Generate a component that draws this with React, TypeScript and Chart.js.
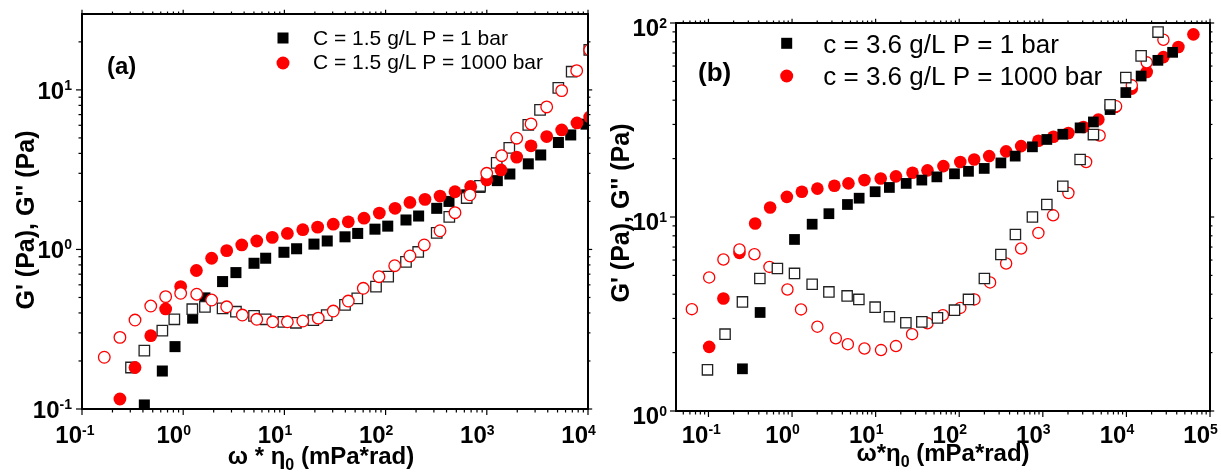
import React, { useEffect, useRef } from "react";
import { Chart, registerables } from "chart.js";
Chart.register(...registerables);

const FONT = '"Liberation Sans", Arial, Helvetica, sans-serif';

// ---------- Panel (a): C = 1.5 g/L ----------
const aGp1X = [0.413, 0.622, 0.83, 1.24, 1.64, 2.45, 3.32, 5.01, 6.53, 9.9, 13.2, 19.6, 26.5, 39.7, 53, 78.5, 105, 159, 212, 320, 423, 633, 857, 1270, 1690, 2570, 3410, 5100, 6750, 9550];
const aGp1Y = [0.106, 0.173, 0.246, 0.371, 0.497, 0.629, 0.716, 0.819, 0.881, 0.96, 1.01, 1.08, 1.13, 1.2, 1.26, 1.34, 1.4, 1.53, 1.62, 1.81, 2.0, 2.2, 2.45, 2.7, 2.97, 3.44, 3.91, 4.68, 5.22, 6.1];
const aGpp1X = [0.305, 0.413, 0.622, 0.817, 1.23, 1.64, 2.45, 3.32, 5.01, 6.53, 9.75, 13.0, 19.3, 26.2, 39.7, 52.5, 80.4, 106, 159, 210, 320, 426, 633, 857, 1253, 1668, 2570, 3357, 5090, 6900, 10300];
const aGpp1Y = [0.182, 0.232, 0.31, 0.365, 0.422, 0.437, 0.427, 0.407, 0.383, 0.365, 0.352, 0.347, 0.361, 0.388, 0.449, 0.494, 0.585, 0.675, 0.836, 0.964, 1.27, 1.6, 2.1, 2.5, 3.49, 4.33, 6.04, 7.5, 10.3, 13.0, 17.8];
const aGp1000X = [0.237, 0.334, 0.478, 0.671, 0.944, 1.35, 1.91, 2.69, 3.79, 5.33, 7.59, 10.7, 15.2, 21.3, 30.4, 42.8, 61.2, 86.7, 124, 174, 245, 345, 485, 693, 998, 1380, 1973, 2735, 3908, 5495, 7780, 10400];
const aGp1000Y = [0.1155, 0.182, 0.288, 0.424, 0.585, 0.738, 0.881, 0.983, 1.067, 1.13, 1.19, 1.26, 1.33, 1.38, 1.44, 1.49, 1.57, 1.69, 1.81, 1.97, 2.06, 2.16, 2.3, 2.48, 2.73, 3.15, 3.79, 4.46, 5.1, 5.61, 6.21, 6.77];
const aGpp1000X = [0.166, 0.237, 0.334, 0.478, 0.671, 0.944, 1.36, 1.91, 2.69, 3.84, 5.33, 7.66, 10.7, 15.2, 21.6, 30.4, 42.8, 60.2, 86.0, 123, 174, 241, 345, 485, 682, 998, 1403, 1973, 2735, 3908, 5495, 7730, 10400];
const aGpp1000Y = [0.211, 0.281, 0.361, 0.442, 0.506, 0.531, 0.524, 0.482, 0.437, 0.388, 0.365, 0.352, 0.352, 0.356, 0.371, 0.411, 0.475, 0.571, 0.675, 0.791, 0.91, 1.067, 1.31, 1.7, 2.2, 3.0, 3.87, 4.98, 6.12, 7.82, 9.9, 13.2, 17.8];
const aLegend = ["C = 1.5 g/L P = 1 bar", "C = 1.5 g/L P = 1000 bar"];
const aXTickExp = [-1, 0, 1, 2, 3, 4];
const aYTickExp = [-1, 0, 1];

// ---------- Panel (b): c = 3.6 g/L ----------
const bGp1X = [0.255, 0.415, 1.07, 1.74, 2.76, 4.6, 6.35, 9.86, 14.6, 23.2, 35.7, 54.0, 87.7, 129, 199, 315, 467, 751, 1117, 1734, 2793, 4030, 6380, 9840, 15000, 23800, 35700];
const bGp1Y = [1.65, 3.22, 7.66, 9.18, 10.4, 11.6, 12.5, 13.5, 14.2, 14.9, 15.5, 16.1, 16.7, 17.2, 17.8, 19.0, 20.6, 23.0, 25.1, 26.7, 28.8, 30.9, 35.8, 43.8, 53.3, 64.2, 70.6];
const bGpp1X = [0.0973, 0.158, 0.255, 0.412, 0.668, 1.07, 1.74, 2.76, 4.56, 6.3, 9.86, 14.6, 23.0, 35.7, 54.9, 87.7, 129, 200, 315, 470, 751, 1117, 1734, 2793, 4030, 6380, 9840, 15000, 23900];
const bGpp1Y = [1.63, 2.49, 3.65, 4.82, 5.43, 5.12, 4.5, 4.11, 3.92, 3.76, 3.43, 3.06, 2.85, 2.88, 3.02, 3.31, 3.76, 4.82, 6.41, 8.13, 10.0, 11.6, 14.4, 19.8, 26.6, 37.9, 52.3, 67.7, 89.8];
const bGp1000X = [0.102, 0.151, 0.235, 0.362, 0.547, 0.867, 1.31, 2.01, 3.21, 4.73, 7.35, 11.5, 17.5, 27.6, 41.7, 64.7, 103, 151, 228, 364, 550, 885, 1340, 2023, 3060, 4620, 7330, 11600, 17500, 27700, 41900, 63300];
const bGp1000Y = [2.14, 3.8, 6.53, 9.26, 11.2, 12.7, 13.5, 14.0, 14.5, 14.9, 15.5, 15.8, 16.2, 16.9, 17.4, 18.3, 19.2, 19.8, 20.6, 21.8, 23.2, 24.7, 25.9, 27.1, 29.1, 31.8, 36.9, 45.9, 55.9, 66.7, 75.2, 87.4];
const bGpp1000X = [0.0633, 0.102, 0.151, 0.235, 0.355, 0.537, 0.881, 1.28, 2.01, 3.34, 4.65, 7.35, 11.6, 17.5, 27.3, 41.7, 63.7, 103, 152, 234, 364, 550, 885, 1328, 2023, 3296, 4780, 7530, 11600, 17500, 27700];
const bGpp1000Y = [3.35, 4.88, 6.04, 6.8, 6.43, 5.53, 4.23, 3.34, 2.72, 2.37, 2.21, 2.1, 2.06, 2.16, 2.49, 2.83, 3.12, 3.4, 3.76, 4.6, 5.76, 6.88, 8.28, 10.2, 13.3, 19.2, 26.3, 37.2, 47.7, 62.7, 82.0];
const bLegend = ["c = 3.6 g/L P = 1 bar", "c = 3.6 g/L P = 1000 bar"];
const bXTickExp = [-1, 0, 1, 2, 3, 4, 5];
const bYTickExp = [0, 1, 2];

const yTitle = "G' (Pa), G'' (Pa)";

const pts = (xs: number[], ys: number[]) => xs.map((x, i) => ({ x, y: ys[i] }));

type MarkerKind = "fsq" | "osq" | "fci" | "oci";

function makeDataset(data: any[], kind: MarkerKind, order: number, sizes: any) {
  const base: any = { data, showLine: false, clip: 0, order };
  if (kind === "fsq") return { ...base, pointStyle: "rect", pointRadius: sizes.fsq, backgroundColor: "#000", borderColor: "#000", borderWidth: 0 };
  if (kind === "osq") return { ...base, pointStyle: "rect", pointRadius: sizes.osq, backgroundColor: "#fff", borderColor: "#222", borderWidth: 1.3 };
  if (kind === "fci") return { ...base, pointStyle: "circle", pointRadius: sizes.fci, backgroundColor: "#ff0000", borderColor: "#ff0000", borderWidth: 0 };
  return { ...base, pointStyle: "circle", pointRadius: sizes.oci, backgroundColor: "#fff", borderColor: "#ff0000", borderWidth: 1.3 };
}

function makeDecor(spec: any) {
  return {
    id: "decor",
    afterDraw(chart: any) {
      const ctx: CanvasRenderingContext2D = chart.ctx;
      const a = chart.chartArea;
      const xs = chart.scales.x;
      const ys = chart.scales.y;
      ctx.save();
      ctx.strokeStyle = "#000";
      ctx.fillStyle = "#000";
      const line = (x1: number, y1: number, x2: number, y2: number) => {
        ctx.beginPath();
        ctx.moveTo(x1, y1);
        ctx.lineTo(x2, y2);
        ctx.stroke();
      };
      // ticks
      ctx.lineWidth = 1.2;
      const e0x = Math.floor(Math.log10(xs.min));
      const e1x = Math.ceil(Math.log10(xs.max));
      for (let e = e0x; e <= e1x; e++) {
        for (let k = 1; k < 10; k++) {
          const v = k * Math.pow(10, e);
          if (v < xs.min * 0.999 || v > xs.max * 1.001) continue;
          const p = xs.getPixelForValue(v);
          const len = k === 1 ? 6 : 3.5;
          line(p, a.bottom, p, a.bottom + len);
          line(p, a.top, p, a.top - len * 0.7);
        }
      }
      const e0y = Math.floor(Math.log10(ys.min));
      const e1y = Math.ceil(Math.log10(ys.max));
      for (let e = e0y; e <= e1y; e++) {
        for (let k = 1; k < 10; k++) {
          const v = k * Math.pow(10, e);
          if (v < ys.min * 0.999 || v > ys.max * 1.001) continue;
          const p = ys.getPixelForValue(v);
          const len = k === 1 ? 6 : 3.5;
          line(a.left, p, a.left - len, p);
          line(a.right, p, a.right + len * 0.7, p);
        }
      }
      // frame
      ctx.lineWidth = 2;
      ctx.strokeRect(a.left, a.top, a.right - a.left, a.bottom - a.top);

      // tick labels
      const baseFont = `bold 24px ${FONT}`;
      const expFont = `bold 14px ${FONT}`;
      ctx.textBaseline = "alphabetic";
      for (const e of spec.xExp) {
        const p = xs.getPixelForValue(Math.pow(10, e));
        ctx.font = baseFont;
        ctx.textAlign = "right";
        ctx.fillText("10", p, a.bottom + spec.xBaseDy);
        ctx.font = expFont;
        ctx.textAlign = "left";
        ctx.fillText(String(e), p, a.bottom + spec.xExpDy);
      }
      for (const e of spec.yExp) {
        const p = ys.getPixelForValue(Math.pow(10, e));
        const xr = a.left - spec.yLabelGap;
        ctx.font = expFont;
        const ew = ctx.measureText(String(e)).width;
        ctx.textAlign = "right";
        ctx.fillText(String(e), xr, p + spec.yExpDy);
        ctx.font = baseFont;
        ctx.fillText("10", xr - ew, p + spec.yBaseDy);
      }

      // x title with subscript
      const parts = [
        { t: spec.xTitle[0], f: `bold 24px ${FONT}`, dy: 0 },
        { t: "0", f: `bold 16px ${FONT}`, dy: 6 },
        { t: spec.xTitle[1], f: `bold 24px ${FONT}`, dy: 0 },
      ];
      let tw = 0;
      for (const pt of parts) {
        ctx.font = pt.f;
        tw += ctx.measureText(pt.t).width;
      }
      let cx = spec.xTitleCx - tw / 2;
      ctx.textAlign = "left";
      for (const pt of parts) {
        ctx.font = pt.f;
        ctx.fillText(pt.t, cx, spec.xTitleBase + pt.dy);
        cx += ctx.measureText(pt.t).width;
      }

      // y title
      ctx.save();
      ctx.translate(spec.yTitleCx, spec.yTitleCy);
      ctx.rotate(-Math.PI / 2);
      ctx.font = `bold 25px ${FONT}`;
      ctx.textAlign = "center";
      ctx.textBaseline = "middle";
      ctx.fillText(yTitle, 0, 0);
      ctx.restore();

      // panel tag
      ctx.font = `bold ${spec.tagSize}px ${FONT}`;
      ctx.textAlign = "left";
      ctx.textBaseline = "alphabetic";
      ctx.fillText(spec.tag, spec.tagX, spec.tagBase);

      // legend
      const L = spec.legend;
      ctx.fillStyle = "#000";
      ctx.fillRect(L.mx - L.sq / 2, L.my1 - L.sq / 2, L.sq, L.sq);
      ctx.fillStyle = "#ff0000";
      ctx.beginPath();
      ctx.arc(L.mx, L.my2, L.r, 0, Math.PI * 2);
      ctx.fill();
      ctx.fillStyle = "#000";
      ctx.font = `${L.size}px ${FONT}`;
      ctx.fillText(L.labels[0], L.tx, L.tb1);
      ctx.fillText(L.labels[1], L.tx, L.tb2);
      ctx.restore();
    },
  };
}

function Panel(props: any) {
  const ref = useRef<HTMLCanvasElement>(null);
  const { p } = props;
  useEffect(() => {
    const chart = new Chart(ref.current as HTMLCanvasElement, {
      type: "scatter",
      data: { datasets: p.datasets },
      options: {
        responsive: false,
        maintainAspectRatio: false,
        animation: false,
        events: [],
        layout: { padding: { top: p.padTop, right: p.padRight, left: 0, bottom: 0 } },
        plugins: { legend: { display: false }, tooltip: { enabled: false } },
        scales: {
          x: {
            type: "logarithmic",
            position: "bottom",
            min: p.xMin,
            max: p.xMax,
            grid: { display: false },
            border: { display: false },
            ticks: { display: false },
            afterFit: (s: any) => {
              s.height = p.xAxisH;
            },
          },
          y: {
            type: "logarithmic",
            position: "left",
            min: p.yMin,
            max: p.yMax,
            grid: { display: false },
            border: { display: false },
            ticks: { display: false },
            afterFit: (s: any) => {
              s.width = p.yAxisW;
            },
          },
        },
      } as any,
      plugins: [makeDecor(p.spec)],
    });
    return () => chart.destroy();
  }, []);
  return (
    <canvas
      ref={ref}
      width={p.width}
      height={473}
      style={{ position: "absolute", left: p.left, top: 0, width: p.width, height: 473 }}
    />
  );
}

const sizesA = { fsq: 7.8, osq: 7.4, fci: 6.4, oci: 5.8 };
const sizesB = { fsq: 7.6, osq: 7.3, fci: 6.3, oci: 5.6 };

const panelA = {
  left: 0,
  width: 610,
  padTop: 14,
  padRight: 22,
  xAxisH: 64,
  yAxisW: 82,
  xMin: 0.1,
  xMax: 10000,
  yMin: 0.1,
  yMax: 29.9,
  datasets: [
    makeDataset(pts(aGpp1000X, aGpp1000Y), "oci", 0, sizesA),
    makeDataset(pts(aGp1000X, aGp1000Y), "fci", 1, sizesA),
    makeDataset(pts(aGpp1X, aGpp1Y), "osq", 2, sizesA),
    makeDataset(pts(aGp1X, aGp1Y), "fsq", 3, sizesA),
  ],
  spec: {
    xExp: aXTickExp,
    yExp: aYTickExp,
    xBaseDy: 34,
    xExpDy: 26,
    yLabelGap: 10,
    yBaseDy: 9,
    yExpDy: 0,
    xTitle: ["ω * η", " (mPa*rad)"],
    xTitleCx: 321,
    xTitleBase: 464,
    yTitleCx: 27,
    yTitleCy: 220,
    tag: "(a)",
    tagSize: 24,
    tagX: 107,
    tagBase: 74,
    legend: { mx: 283, my1: 38, my2: 63, sq: 11, r: 6.5, tx: 313, tb1: 45, tb2: 69, size: 21, labels: aLegend },
  },
};

const panelB = {
  left: 610,
  width: 611,
  padTop: 23,
  padRight: 11,
  xAxisH: 62,
  yAxisW: 66,
  xMin: 0.0409,
  xMax: 100000,
  yMin: 1,
  yMax: 100,
  datasets: [
    makeDataset(pts(bGpp1X, bGpp1Y), "osq", 0, sizesB),
    makeDataset(pts(bGp1X, bGp1Y), "fsq", 1, sizesB),
    makeDataset(pts(bGpp1000X, bGpp1000Y), "oci", 2, sizesB),
    makeDataset(pts(bGp1000X, bGp1000Y), "fci", 3, sizesB),
  ],
  spec: {
    xExp: bXTickExp,
    yExp: bYTickExp,
    xBaseDy: 32,
    xExpDy: 23,
    yLabelGap: 9,
    yBaseDy: 13,
    yExpDy: 5,
    xTitle: ["ω*η", " (mPa*rad)"],
    xTitleCx: 333,
    xTitleBase: 461,
    yTitleCx: 12.5,
    yTitleCy: 213,
    tag: "(b)",
    tagSize: 26,
    tagX: 88,
    tagBase: 81,
    legend: { mx: 176.7, my1: 43.3, my2: 76, sq: 11, r: 6.5, tx: 213.3, tb1: 53, tb2: 85, size: 26, labels: bLegend },
  },
};

export default function App() {
  return (
    <div style={{ position: "fixed", left: 0, top: 0, width: 1221, height: 473, background: "#fff" }}>
      <Panel p={panelA} />
      <Panel p={panelB} />
    </div>
  );
}
